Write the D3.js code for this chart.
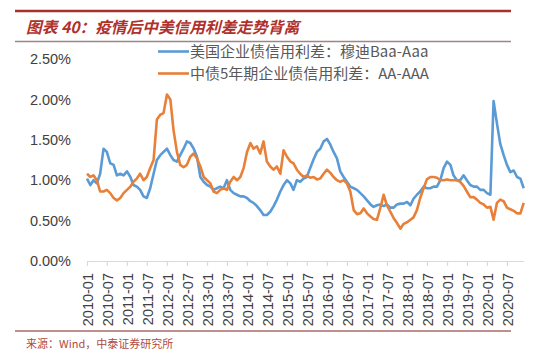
<!DOCTYPE html>
<html><head><meta charset="utf-8">
<script src="https://cdn.jsdelivr.net/npm/d3@7"></script>
<style>
html,body{margin:0;padding:0;background:#fff;}
svg{display:block;}
</style></head>
<body>
<svg id="c" width="550" height="362"></svg>
<script>
const title = "图表 40：疫情后中美信用利差走势背离";
const source = "来源：Wind，中泰证券研究所";
const seriesNames = ["美国企业债信用利差：穆迪Baa-Aaa", "中债5年期企业债信用利差：AA-AAA"];
const startMonth = "2010-01";
const endMonth = "2020-12";
const yTicks = [0, 0.5, 1.0, 1.5, 2.0, 2.5];
const xTickLabels = ["2010-01","2010-07","2011-01","2011-07","2012-01","2012-07","2013-01","2013-07","2014-01","2014-07","2015-01","2015-07","2016-01","2016-07","2017-01","2017-07","2018-01","2018-07","2019-01","2019-07","2020-01","2020-07"];

// Moody's Baa-Aaa spread (%), monthly 2010-01 .. 2020-12
const usSpread = [
1.02,0.94,1.00,0.96,1.08,1.39,1.35,1.21,1.19,1.06,1.08,1.06,
1.11,1.04,0.94,0.92,0.88,0.80,0.78,0.90,1.08,1.25,1.31,1.35,
1.39,1.31,1.25,1.23,1.31,1.39,1.48,1.46,1.39,1.29,1.04,0.98,
0.94,0.92,0.88,0.90,0.92,0.90,1.00,0.88,0.84,0.82,0.80,0.80,
0.78,0.74,0.72,0.68,0.63,0.57,0.57,0.61,0.68,0.76,0.86,0.94,
1.00,0.96,0.88,1.00,0.98,1.02,1.04,1.15,1.26,1.35,1.39,1.48,
1.51,1.44,1.35,1.27,1.11,1.04,0.98,0.92,0.90,0.88,0.84,0.80,
0.75,0.70,0.67,0.69,0.70,0.68,0.70,0.66,0.66,0.70,0.71,0.71,
0.73,0.69,0.77,0.82,0.86,0.92,0.90,0.90,0.92,0.92,1.00,1.15,
1.23,1.19,1.06,1.00,1.00,1.06,1.00,0.94,0.92,0.92,0.88,0.88,
0.84,0.82,1.98,1.70,1.45,1.31,1.19,1.10,1.12,1.04,1.02,0.90
];
// ChinaBond 5Y AA-AAA spread (%), monthly 2010-01 .. 2020-12
const cnSpread = [
1.08,1.04,1.06,1.00,0.86,0.86,0.88,0.84,0.78,0.75,0.78,0.84,
0.88,0.92,0.98,1.02,1.08,1.00,1.04,1.15,1.25,1.75,1.81,1.83,
2.06,2.00,1.62,1.35,1.19,1.16,1.19,1.29,1.33,1.27,1.17,1.04,
1.00,0.96,0.86,0.84,0.88,0.90,0.88,0.98,1.04,1.00,1.04,1.15,
1.35,1.46,1.39,1.42,1.33,1.48,1.23,1.17,1.13,1.17,1.08,1.37,
1.29,1.23,1.21,1.13,1.08,1.04,1.06,1.03,1.04,1.01,1.02,1.08,
1.13,1.09,1.04,1.00,0.98,1.00,0.96,0.86,0.63,0.58,0.59,0.65,
0.59,0.55,0.52,0.51,0.65,0.82,0.69,0.61,0.53,0.47,0.40,0.46,
0.48,0.51,0.54,0.63,0.78,0.90,1.01,1.04,1.04,1.03,1.00,1.00,
1.01,1.00,1.00,1.00,0.98,0.93,0.86,0.79,0.79,0.76,0.72,0.70,
0.66,0.67,0.51,0.72,0.76,0.74,0.66,0.64,0.62,0.59,0.59,0.72
];
const colors = ["#5b9bd5", "#e8803a"];

const parseM = d3.timeParse("%Y-%m");
const months = d3.timeMonth.range(parseM(startMonth), d3.timeMonth.offset(parseM(endMonth), 1));

const svg = d3.select("#c");
const x = d3.scaleTime().domain([parseM(startMonth), parseM(endMonth)]).range([87, 523.7]);
const y = d3.scaleLinear().domain([0, 2.5]).range([261, 59]);

// header rules
svg.append("line").attr("x1",15).attr("x2",511).attr("y1",11).attr("y2",11)
  .attr("stroke","#a8302c").attr("stroke-width",2.5);
svg.append("line").attr("x1",15).attr("x2",511).attr("y1",41.5).attr("y2",41.5)
  .attr("stroke","#a08484").attr("stroke-width",1.3);
svg.append("line").attr("x1",15).attr("x2",511).attr("y1",331).attr("y2",331)
  .attr("stroke","#a86a6a").attr("stroke-width",1.3);

svg.append("text").attr("x",26).attr("y",33)
  .attr("font-family","'Noto Sans CJK SC'").attr("font-size",15.7)
  .attr("font-weight","bold").attr("font-style","italic")
  .attr("fill","#b0302a").text(title);

svg.append("text").attr("x",26).attr("y",348)
  .attr("font-family","'Noto Sans CJK SC'").attr("font-size",11)
  .attr("fill","#b04a44").text(source);

// y axis labels
svg.append("g").selectAll("text").data(yTicks).join("text")
  .attr("x",71).attr("y",d=>y(d)).attr("dy","0.36em")
  .attr("text-anchor","end")
  .attr("font-family","'Liberation Sans'").attr("font-size",14.5)
  .attr("fill","#404040")
  .text(d=>d3.format(".2f")(d)+"%");

// x axis
const xAxis = d3.axisBottom(x)
  .tickValues(xTickLabels.map(parseM))
  .tickSize(5).tickSizeOuter(0).tickFormat("");
const gx = svg.append("g").attr("transform","translate(0,261)").call(xAxis);
gx.select(".domain").attr("stroke","#d9d9d9").attr("stroke-width",1.2);
gx.selectAll(".tick line").attr("stroke","#d9d9d9").attr("stroke-width",1.2);

svg.append("g").selectAll("text").data(xTickLabels).join("text")
  .attr("transform", d=>`translate(${x(parseM(d))+1},273) rotate(-90)`)
  .attr("dy","0.36em").attr("text-anchor","end")
  .attr("font-family","'Liberation Sans'").attr("font-size",14.5)
  .attr("fill","#404040").text(d=>d);

// lines
const line = d3.line().x((d,i)=>x(months[i])).y(d=>y(d)).curve(d3.curveLinear);
[usSpread, cnSpread].forEach((s,k)=>{
  svg.append("path").datum(s).attr("d",line)
    .attr("fill","none").attr("stroke",colors[k]).attr("stroke-width",2.6)
    .attr("stroke-linejoin","round");
});

// legend
const lg = svg.append("g");
seriesNames.forEach((n,k)=>{
  const ly = 51.5 + k*22;
  lg.append("line").attr("x1",158).attr("x2",189).attr("y1",ly).attr("y2",ly)
    .attr("stroke",colors[k]).attr("stroke-width",2.6);
  lg.append("text").attr("x",190).attr("y",ly).attr("dy","0.36em")
    .attr("font-family","'Noto Sans CJK SC'").attr("font-size",15)
    .attr("fill","#595959").text(n);
});
</script>
</body></html>
